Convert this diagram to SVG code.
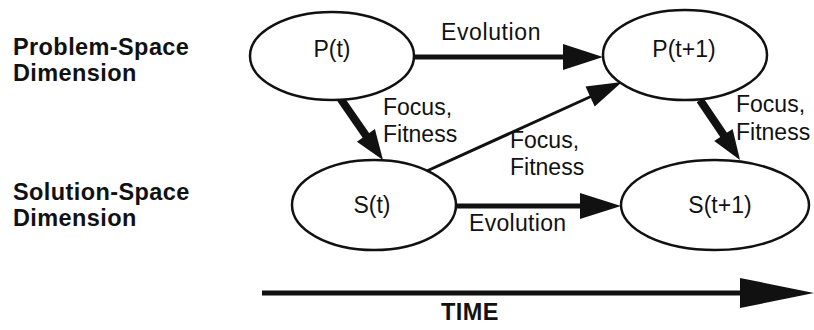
<svg xmlns="http://www.w3.org/2000/svg" width="814" height="330" viewBox="0 0 814 330">
<style>
.node ellipse{fill:#fff;stroke:#111;stroke-width:2.5}
.t{font-family:"Liberation Sans",Arial,sans-serif;font-size:23px;fill:#111}
.b{font-family:"Liberation Sans",Arial,sans-serif;font-size:23.5px;font-weight:bold;fill:#111;letter-spacing:0.4px}
.ln{stroke:#111;fill:none}
.hd{fill:#111}
</style>
<rect width="814" height="330" fill="#fff"/>
<g id="labels">
<text class="b" x="13" y="55">Problem-Space</text>
<text class="b" x="13" y="81">Dimension</text>
<text class="b" x="13" y="200">Solution-Space</text>
<text class="b" x="13" y="226">Dimension</text>
</g>
<g id="connectors">
<line class="ln" x1="414" y1="57" x2="566" y2="57" stroke-width="5"/>
<polygon class="hd" points="603,57 563,44 563,70"/>
<text class="t" x="441" y="40" letter-spacing="0.6">Evolution</text>
<line class="ln" x1="456" y1="206" x2="584" y2="206" stroke-width="5"/>
<polygon class="hd" points="621,206 580,193 580,219"/>
<text class="t" x="469" y="231" letter-spacing="0.3">Evolution</text>
<line class="ln" x1="340" y1="98" x2="367" y2="137" stroke-width="8"/>
<polygon class="hd" points="383,160 356.9,141.7 374.9,129.1"/>
<text class="t" x="383" y="115">Focus,</text>
<text class="t" x="383" y="142">Fitness</text>
<line class="ln" x1="700" y1="100" x2="725" y2="137" stroke-width="8"/>
<polygon class="hd" points="740,160 714.2,141.1 732.6,128.9"/>
<text class="t" x="736" y="112">Focus,</text>
<text class="t" x="736" y="140">Fitness</text>
<line class="ln" x1="418" y1="175" x2="592" y2="96" stroke-width="3"/>
<polygon class="hd" points="622,82 594.7,106.5 585.5,86.5"/>
<text class="t" x="510" y="148">Focus,</text>
<text class="t" x="510" y="175">Fitness</text>
<line class="ln" x1="262" y1="293" x2="745" y2="293" stroke-width="5"/>
<polygon class="hd" points="814,293 740,278 740,308"/>
<text class="b" x="441" y="320">TIME</text>
</g>
<g id="P_t" class="node"><ellipse cx="332" cy="56" rx="82" ry="44"/><text class="t" x="332" y="57" text-anchor="middle">P(t)</text></g>
<g id="P_t1" class="node"><ellipse cx="685" cy="55" rx="82" ry="45"/><text class="t" x="684" y="57" text-anchor="middle">P(t+1)</text></g>
<g id="S_t" class="node"><ellipse cx="374" cy="205" rx="82" ry="45"/><text class="t" x="372" y="213" text-anchor="middle">S(t)</text></g>
<g id="S_t1" class="node"><ellipse cx="715" cy="205" rx="94" ry="45"/><text class="t" x="720" y="213" text-anchor="middle">S(t+1)</text></g>
</svg>
